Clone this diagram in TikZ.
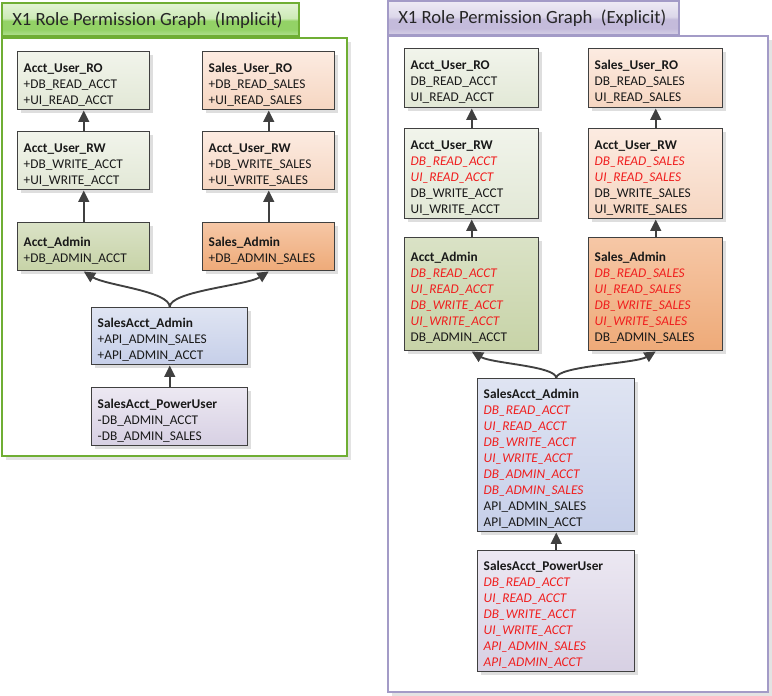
\documentclass[tikz,border=0pt]{standalone}
\usepackage{fontspec}
\setmainfont{Carlito}
\usetikzlibrary{shadows,arrows.meta}
\definecolor{brd}{HTML}{404040}
\definecolor{gA1}{HTML}{F1F4EB}\definecolor{gA2}{HTML}{E2E8D6}
\definecolor{oA1}{HTML}{FCEBE1}\definecolor{oA2}{HTML}{F6D6C1}
\definecolor{gB1}{HTML}{DAE2C6}\definecolor{gB2}{HTML}{C7D3A7}
\definecolor{oB1}{HTML}{F6C7A6}\definecolor{oB2}{HTML}{EEAA78}
\definecolor{bl1}{HTML}{DFE4F2}\definecolor{bl2}{HTML}{C6CFE9}
\definecolor{pu1}{HTML}{ECE8F2}\definecolor{pu2}{HTML}{D7D0E3}
\definecolor{redtxt}{HTML}{F01E1E}
\definecolor{gbrd}{HTML}{6FAE34}
\definecolor{pbrd}{HTML}{A39BC7}
\definecolor{gt1}{HTML}{E3F3D6}\definecolor{gt2}{HTML}{CDEAB6}
\definecolor{gt3}{HTML}{93D266}\definecolor{gt4}{HTML}{B4E194}
\definecolor{pt1}{HTML}{EEEBF5}\definecolor{pt2}{HTML}{DCD7EA}
\definecolor{pt3}{HTML}{C4BBDB}\definecolor{pt4}{HTML}{D6D0E6}
\pgfdeclareverticalshading{gtab}{100bp}{color(0bp)=(gt4); color(25bp)=(gt4); color(35bp)=(gt3); color(48bp)=(gt3); color(52bp)=(gt2); color(75bp)=(gt1); color(100bp)=(gt1)}
\pgfdeclareverticalshading{ptab}{100bp}{color(0bp)=(pt4); color(25bp)=(pt4); color(35bp)=(pt3); color(48bp)=(pt3); color(52bp)=(pt2); color(75bp)=(pt1); color(100bp)=(pt1)}
\newcommand\redit[1]{\textcolor{redtxt}{\itshape #1}}
\begin{document}
\begin{tikzpicture}[x=0.75pt,y=-0.75pt,
  box/.style={draw=brd, line width=1.1pt, inner xsep=4.5pt, inner ysep=0pt,
    anchor=north west, align=left, font=\fontsize{10}{12}\selectfont, text=black!90,
    execute at begin node={\rule{0pt}{12.5pt}},
    drop shadow={shadow xshift=2.5pt, shadow yshift=-2.5pt, fill=black!13, opacity=1}},
  gl/.style={top color=gA1, bottom color=gA2},
  ol/.style={top color=oA1, bottom color=oA2},
  gd/.style={top color=gB1, bottom color=gB2},
  od/.style={top color=oB1, bottom color=oB2},
  bb/.style={top color=bl1, bottom color=bl2},
  pp/.style={top color=pu1, bottom color=pu2},
  arr/.style={draw=brd, line width=1.4pt, -{Triangle[length=8.5pt,width=8pt]}},
  ttl/.style={font=\fontsize{14}{16}\selectfont, text=black!85, inner sep=0pt, anchor=west},
  panelshadow/.style={fill=black!11, draw=none}
]
\useasboundingbox (0,0) rectangle (772,696);
% ---------- left panel ----------
\fill[panelshadow] (6,42) rectangle (351,460);
\draw[draw=gbrd, line width=1pt, fill=white] (2,38) rectangle (347,456);
\shade[shading=gtab] (2,3) rectangle (299,36);
\draw[draw=gbrd, line width=1pt] (2,3) rectangle (299,36);
\node[ttl] (ltitle) at (12,20) {X1 Role Permission Graph\ \ (Implicit)};

\node[box, gl, text width=90pt, minimum height=43.5pt] (lRO) at (17,51)
  {\textbf{Acct\_User\_RO}\\+DB\_READ\_ACCT\\+UI\_READ\_ACCT};
\node[box, ol, text width=90pt, minimum height=43.5pt] (lSRO) at (202,51)
  {\textbf{Sales\_User\_RO}\\+DB\_READ\_SALES\\+UI\_READ\_SALES};
\node[box, gl, text width=90pt, minimum height=43.5pt] (lRW) at (17,131)
  {\textbf{Acct\_User\_RW}\\+DB\_WRITE\_ACCT\\+UI\_WRITE\_ACCT};
\node[box, ol, text width=90pt, minimum height=43.5pt] (lSRW) at (202,131)
  {\textbf{Acct\_User\_RW}\\+DB\_WRITE\_SALES\\+UI\_WRITE\_SALES};
\node[box, gd, text width=90pt, minimum height=36pt] (lAA) at (17,222)
  {\textbf{Acct\_Admin}\\+DB\_ADMIN\_ACCT};
\node[box, od, text width=90pt, minimum height=36pt] (lSA) at (202,222)
  {\textbf{Sales\_Admin}\\+DB\_ADMIN\_SALES};
\node[box, bb, text width=108pt, minimum height=42.75pt] (lSAA) at (91,307)
  {\textbf{SalesAcct\_Admin}\\+API\_ADMIN\_SALES\\+API\_ADMIN\_ACCT};
\node[box, pp, text width=108pt, minimum height=43.5pt] (lPU) at (91,387)
  {\textbf{SalesAcct\_PowerUser}\\-DB\_ADMIN\_ACCT\\-DB\_ADMIN\_SALES};

\draw[arr] (lRW.north) -- (lRO.south);
\draw[arr] (lSRW.north) -- (lSRO.south);
\draw[arr] (lAA.north) -- (lRW.south);
\draw[arr] (lSA.north) -- (lSRW.south);
\draw[arr] (lSAA.north) .. controls +(0,-16) and +(22,14) .. (lAA.south);
\draw[arr] (lSAA.north) .. controls +(0,-16) and +(-22,14) .. (lSA.south);
\draw[arr] (lPU.north) -- (lSAA.south);

% ---------- right panel ----------
\fill[panelshadow] (392,40) rectangle (772,696);
\draw[draw=pbrd, line width=1pt, fill=white] (388,36) rectangle (768,692);
\shade[shading=ptab] (388,1) rectangle (679,35);
\draw[draw=pbrd, line width=1pt] (388,1) rectangle (679,35);
\node[ttl] (rtitle) at (398,18) {X1 Role Permission Graph\ \ (Explicit)};

\node[box, gl, text width=91.5pt, minimum height=44.25pt] (rRO) at (404,48)
  {\textbf{Acct\_User\_RO}\\DB\_READ\_ACCT\\UI\_READ\_ACCT};
\node[box, ol, text width=91.5pt, minimum height=44.25pt] (rSRO) at (588,48)
  {\textbf{Sales\_User\_RO}\\DB\_READ\_SALES\\UI\_READ\_SALES};
\node[box, gl, text width=91.5pt, minimum height=67.5pt] (rRW) at (404,128)
  {\textbf{Acct\_User\_RW}\\\redit{DB\_READ\_ACCT}\\\redit{UI\_READ\_ACCT}\\DB\_WRITE\_ACCT\\UI\_WRITE\_ACCT};
\node[box, ol, text width=91.5pt, minimum height=67.5pt] (rSRW) at (588,128)
  {\textbf{Acct\_User\_RW}\\\redit{DB\_READ\_SALES}\\\redit{UI\_READ\_SALES}\\DB\_WRITE\_SALES\\UI\_WRITE\_SALES};
\node[box, gd, text width=91.5pt, minimum height=84.75pt] (rAA) at (404,237)
  {\textbf{Acct\_Admin}\\\redit{DB\_READ\_ACCT}\\\redit{UI\_READ\_ACCT}\\\redit{DB\_WRITE\_ACCT}\\\redit{UI\_WRITE\_ACCT}\\DB\_ADMIN\_ACCT};
\node[box, od, text width=91.5pt, minimum height=84.75pt] (rSA) at (588,237)
  {\textbf{Sales\_Admin}\\\redit{DB\_READ\_SALES}\\\redit{UI\_READ\_SALES}\\\redit{DB\_WRITE\_SALES}\\\redit{UI\_WRITE\_SALES}\\DB\_ADMIN\_SALES};
\node[box, bb, text width=108.75pt, minimum height=114.75pt] (rSAA) at (477,378)
  {\textbf{SalesAcct\_Admin}\\\redit{DB\_READ\_ACCT}\\\redit{UI\_READ\_ACCT}\\\redit{DB\_WRITE\_ACCT}\\\redit{UI\_WRITE\_ACCT}\\\redit{DB\_ADMIN\_ACCT}\\\redit{DB\_ADMIN\_SALES}\\API\_ADMIN\_SALES\\API\_ADMIN\_ACCT};
\node[box, pp, text width=108.75pt, minimum height=90.75pt] (rPU) at (477,550)
  {\textbf{SalesAcct\_PowerUser}\\\redit{DB\_READ\_ACCT}\\\redit{UI\_READ\_ACCT}\\\redit{DB\_WRITE\_ACCT}\\\redit{UI\_WRITE\_ACCT}\\\redit{API\_ADMIN\_SALES}\\\redit{API\_ADMIN\_ACCT}};

\draw[arr] (rRW.north) -- (rRO.south);
\draw[arr] (rSRW.north) -- (rSRO.south);
\draw[arr] (rAA.north) -- (rRW.south);
\draw[arr] (rSA.north) -- (rSRW.south);
\draw[arr] (rSAA.north) .. controls +(0,-12) and +(20,12) .. (rAA.south);
\draw[arr] (rSAA.north) .. controls +(0,-12) and +(-20,12) .. (rSA.south);
\draw[arr] (rPU.north) -- (rSAA.south);
\end{tikzpicture}
\end{document}
